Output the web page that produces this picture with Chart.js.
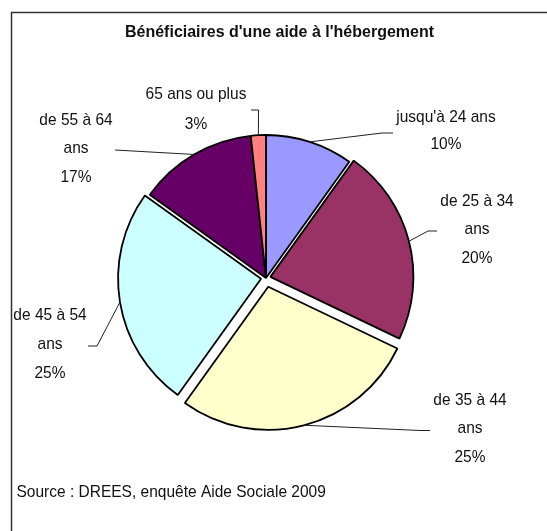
<!DOCTYPE html>
<html>
<head>
<meta charset="utf-8">
<script src="https://cdn.jsdelivr.net/npm/chart.js@4/dist/chart.umd.min.js"></script>
<style>
	html, body { margin: 0; padding: 0; background: #fff; }
	#wrap { width: 547px; height: 531px; }
</style>
</head>
<body>
<div id="wrap"><canvas id="pie" width="547" height="531"></canvas></div>
<script>
// values, percent labels as printed on the chart
var ageGroups = ["jusqu'à 24 ans", "de 25 à 34 ans", "de 35 à 44 ans", "de 45 à 54 ans", "de 55 à 64 ans", "65 ans ou plus"];
var shares = [9.9, 22.2, 27.8, 25.0, 13.4, 1.7];
var printedPct = ["10%", "20%", "25%", "25%", "17%", "3%"];
var sliceColors = ["#9999FF", "#993366", "#FFFFCC", "#CCFFFF", "#660066", "#FF8080"];
var explode = [0, 18, 36, 20, 0, 0];

var chartTitle = "Bénéficiaires d'une aide à l'hébergement";
var sourceNote = "Source : DREES, enquête Aide Sociale 2009";

// label text lines, where it sits, and the leader line drawn from the slice
var calloutLines = [
	["jusqu'à 24 ans", printedPct[0]],
	["de 25 à 34", "ans", printedPct[1]],
	["de 35 à 44", "ans", printedPct[2]],
	["de 45 à 54", "ans", printedPct[3]],
	["de 55 à 64", "ans", printedPct[4]],
	["65 ans ou plus", printedPct[5]]
];
var calloutPos = [[446, 117, 27], [477, 201, 28.5], [470, 400, 28.8], [50, 315, 29], [76, 120, 28.5], [196, 94, 30]];
var leaderPts = [
	[[382, 133], [393, 133]],
	[[428, 231], [437, 231]],
	[[420, 430.5], [430, 430.5]],
	[[97, 346], [88, 346]],
	[[115, 150]],
	[[258.5, 110], [251, 110]]
];

var labelFont = "15.5px 'Liberation Sans', Arial, sans-serif";

// the original text is a bit taller than plain Arial
function drawText(ctx, txt, x, y, sy) {
	ctx.save();
	ctx.translate(x, y);
	ctx.scale(1, sy || 1.08);
	ctx.fillText(txt, 0, 0);
	ctx.restore();
}

var calloutPlugin = {
	id: 'callouts',
	afterDraw: function(chart) {
		var ctx = chart.ctx;
		var meta = chart.getDatasetMeta(0);
		ctx.save();

		// frame (only top and left edges fall inside the picture)
		ctx.strokeStyle = '#333';
		ctx.lineWidth = 1.5;
		ctx.beginPath();
		ctx.moveTo(11.5, 540);
		ctx.lineTo(11.5, 12.5);
		ctx.lineTo(560, 12.5);
		ctx.stroke();

		ctx.fillStyle = '#111';
		ctx.textAlign = 'center';
		ctx.textBaseline = 'middle';
		ctx.font = "bold 16px 'Liberation Sans', Arial, sans-serif";
		drawText(ctx, chartTitle, 279.5, 32, 1.04);

		ctx.textAlign = 'left';
		ctx.font = labelFont;
		drawText(ctx, sourceNote, 16.5, 492);

		// leader lines start on the rim of each slice
		ctx.strokeStyle = '#222';
		ctx.lineWidth = 1;
		meta.data.forEach(function(arc, i) {
			var mid = (arc.startAngle + arc.endAngle) / 2;
			var off = (explode[i] || 0) / 4;
			var cx = arc.x + Math.cos(mid) * off;
			var cy = arc.y + Math.sin(mid) * off;
			var r = arc.outerRadius;
			ctx.beginPath();
			ctx.moveTo(cx + Math.cos(mid) * r, cy + Math.sin(mid) * r);
			leaderPts[i].forEach(function(p) { ctx.lineTo(p[0], p[1]); });
			ctx.stroke();

			ctx.textAlign = 'center';
			ctx.fillStyle = '#111';
			ctx.font = labelFont;
			var pos = calloutPos[i];
			calloutLines[i].forEach(function(t, k) {
				drawText(ctx, t, pos[0], pos[1] + k * pos[2]);
			});
		});
		ctx.restore();
	}
};

var pieChart = new Chart(document.getElementById('pie'), {
	type: 'pie',
	data: {
		labels: ageGroups,
		datasets: [{
			data: shares,
			backgroundColor: sliceColors,
			borderColor: '#000',
			borderWidth: 1.8,
			offset: explode,
			radius: 143
		}]
	},
	options: {
		responsive: false,
		animation: false,
		events: [],
		layout: { padding: { left: 0, right: 15, top: 25, bottom: 0 } },
		plugins: {
			legend: { display: false },
			title: { display: false },
			tooltip: { enabled: false }
		}
	},
	plugins: [calloutPlugin]
});
</script>
</body>
</html>
